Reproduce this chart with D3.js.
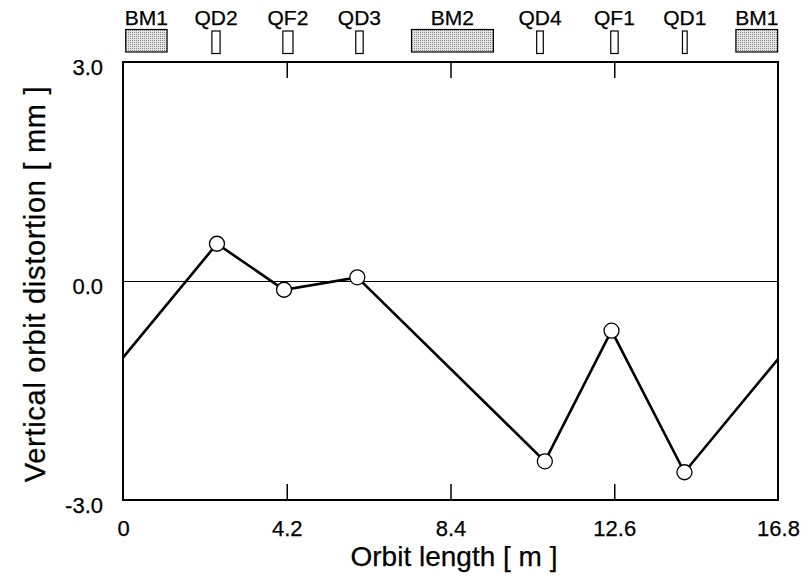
<!DOCTYPE html>
<html><head><meta charset="utf-8">
<script src="https://cdn.jsdelivr.net/npm/d3@7"></script>
<style>html,body{margin:0;padding:0;background:#fff;}svg{display:block;} text{stroke:#000;stroke-width:0.25px;}</style>
</head><body>
<script>
// Data
const orbitStart = [0, -1.05];
const orbitEnd = [16.8, -1.07];
const bpmS = [2.41, 4.13, 6.01, 10.82, 12.53, 14.40];
const bpmY = [0.51, -0.12, 0.05, -2.47, -0.68, -2.62];
const elemNames = ["BM1", "QD2", "QF2", "QD3", "BM2", "QD4", "QF1", "QD1", "BM1"];
const elemStart = [0.07, 2.28, 4.10, 5.97, 7.40, 10.61, 12.51, 14.35, 15.72];
const elemEnd   = [1.13, 2.49, 4.36, 6.16, 9.50, 10.78, 12.70, 14.47, 16.79];
const elemType  = ["bend", "quad", "quad", "quad", "bend", "quad", "quad", "quad", "bend"];
const xTicks = [0, 4.2, 8.4, 12.6, 16.8];
const xTickLabels = ["0", "4.2", "8.4", "12.6", "16.8"];
const yTicks = [3.0, 0.0, -3.0];
const yTickLabels = ["3.0", "0.0", "-3.0"];

const W = 808, H = 580;
const PL = 123, PR = 778, PT = 62, PB = 500;
const font = "'Liberation Sans', Arial, Helvetica, sans-serif";

const svg = d3.select("body").append("svg").attr("width", W).attr("height", H)
  .style("font-family", font);

const defs = svg.append("defs");
const pat = defs.append("pattern").attr("id", "stip").attr("patternUnits", "userSpaceOnUse")
  .attr("width", 2).attr("height", 2);
pat.append("rect").attr("width", 2).attr("height", 2).attr("fill", "#e4e4e4");
pat.append("rect").attr("width", 1).attr("height", 1).attr("fill", "#8a8a8a");

const x = d3.scaleLinear().domain([0, 16.8]).range([PL, PR]);
const y = d3.scaleLinear().domain([-3, 3]).range([PB, PT]);

// zero line
svg.append("line").attr("x1", x(0)).attr("x2", x(16.8)).attr("y1", y(0) + 0.5).attr("y2", y(0) + 0.5)
  .attr("stroke", "#000").attr("stroke-width", 1.2);

// bottom axis ticks (inward)
const bottomAx = svg.append("g").attr("transform", `translate(0,${PB})`)
  .call(d3.axisBottom(x).tickValues(xTicks).tickSizeInner(-16).tickSizeOuter(0)
    .tickPadding(20).tickFormat((d, i) => xTickLabels[i]));
bottomAx.select(".domain").remove();
bottomAx.selectAll("line").attr("stroke", "#000").attr("stroke-width", 1.5);
bottomAx.selectAll("text").attr("font-size", 22).attr("font-family", font).attr("fill", "#000")
  .attr("dy", "0.71em");
bottomAx.selectAll(".tick").filter(d => d === 0 || d === 16.8).select("line").remove();

// top axis ticks (inward)
const topAx = svg.append("g").attr("transform", `translate(0,${PT})`)
  .call(d3.axisTop(x).tickValues(xTicks.filter(d => d > 0 && d < 16.8)).tickSizeInner(-16)
    .tickSizeOuter(0).tickFormat(""));
topAx.select(".domain").remove();
topAx.selectAll("line").attr("stroke", "#000").attr("stroke-width", 1.5);

// left axis labels
const leftAx = svg.append("g").attr("transform", `translate(${PL},0)`)
  .call(d3.axisLeft(y).tickValues(yTicks).tickSize(0).tickPadding(20)
    .tickFormat((d, i) => yTickLabels[i]));
leftAx.select(".domain").remove();
leftAx.selectAll("text").attr("font-size", 22).attr("font-family", font).attr("fill", "#000")
  .attr("dy", "0.55em");

// frame
svg.append("rect").attr("x", PL).attr("y", PT).attr("width", PR - PL).attr("height", PB - PT)
  .attr("fill", "none").attr("stroke", "#000").attr("stroke-width", 2);

// orbit line
const pts = [orbitStart].concat(bpmS.map((s, i) => [s, bpmY[i]])).concat([orbitEnd]);
svg.append("path").datum(pts)
  .attr("d", d3.line().x(d => x(d[0])).y(d => y(d[1])))
  .attr("fill", "none").attr("stroke", "#000").attr("stroke-width", 2.6)
  .attr("stroke-linejoin", "miter");

// markers
svg.selectAll("circle.bpm").data(bpmS).join("circle").attr("class", "bpm")
  .attr("cx", d => x(d)).attr("cy", (d, i) => y(bpmY[i])).attr("r", 7.5)
  .attr("fill", "#fff").attr("stroke", "#000").attr("stroke-width", 1.3);

// lattice elements
const el = svg.append("g");
elemNames.forEach((n, i) => {
  const isBend = elemType[i] === "bend";
  const x0 = x(elemStart[i]), x1 = x(elemEnd[i]);
  el.append("rect").attr("x", x0).attr("y", isBend ? 29.5 : 31)
    .attr("width", x1 - x0).attr("height", 22.5)
    .attr("fill", isBend ? "url(#stip)" : "#fff").attr("stroke", "#000").attr("stroke-width", 1.2);
  el.append("text").attr("x", (x0 + x1) / 2).attr("y", 25).attr("text-anchor", "middle")
    .attr("font-size", 21).attr("fill", "#000").text(n);
});

// axis titles
svg.append("text").attr("x", 454).attr("y", 566).attr("text-anchor", "middle")
  .attr("font-size", 28).attr("fill", "#000").text("Orbit length [ m ]");
svg.append("text").attr("transform", "translate(45,284) rotate(-90)").attr("text-anchor", "middle")
  .attr("font-size", 29).attr("letter-spacing", 0.7).attr("fill", "#000").text("Vertical orbit distortion [ mm ]");
</script>
</body></html>
